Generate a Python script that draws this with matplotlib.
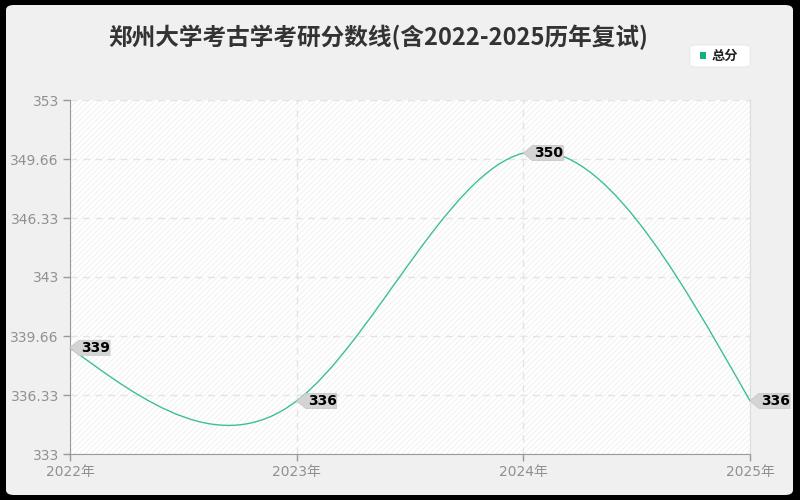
import matplotlib
matplotlib.use('Agg')
import matplotlib.pyplot as plt
import matplotlib.transforms as mtransforms
import numpy as np
from matplotlib.patches import FancyBboxPatch, Polygon, Rectangle, PathPatch
from matplotlib.path import Path

plt.rcParams['font.family'] = ['DejaVu Sans', 'Noto Sans CJK SC']
plt.rcParams['hatch.linewidth'] = 0.6

# data
years = [2022, 2023, 2024, 2025]
year_labels = ['2022年', '2023年', '2024年', '2025年']
scores = [339, 336, 350, 336]
ytick_vals = [333, 336.33, 339.66, 343, 346.33, 349.66, 353]
ytick_labels = ['333', '336.33', '339.66', '343', '346.33', '349.66', '353']

title = '郑州大学考古学考研分数线(含2022-2025历年复试)'
series_name = '总分'
line_color = '#3cc093'
marker_color = '#12b07c'

fig = plt.figure(figsize=(8, 5), dpi=100)
fig.patch.set_facecolor('black')

# light rounded card
card = FancyBboxPatch((6 / 800, 5 / 500), 787 / 800, 490 / 500,
                      boxstyle='round,pad=0,rounding_size=0.01',
                      transform=fig.transFigure, facecolor='#f0f0f0',
                      edgecolor='none', zorder=-10)
fig.patches.append(card)

ax = fig.add_axes([70 / 800, 46 / 500, 680 / 800, 354 / 500])
ax.set_facecolor('white')
ax.add_patch(Rectangle((0, 0), 1, 1, transform=ax.transAxes, facecolor='white',
                       edgecolor='#eeeeee', hatch='//////', lw=0, zorder=0))

ax.set_xlim(years[0], years[-1])
ax.set_ylim(ytick_vals[0], ytick_vals[-1])
ax.set_xticks(years)
ax.set_xticklabels(year_labels)
ax.set_yticks(ytick_vals)
ax.set_yticklabels(ytick_labels)
ax.tick_params(axis='both', colors='#999999', labelcolor='#909090',
               labelsize=10, length=5, width=1)
ax.tick_params(axis='x', pad=3)
ax.tick_params(axis='y', pad=3)

ax.spines['top'].set_visible(False)
ax.spines['right'].set_color('#dddddd')
ax.spines['left'].set_color('#999999')
ax.spines['bottom'].set_color('#999999')

ax.grid(True, color='#e4e4e4', linestyle=(0, (5, 4)), linewidth=1)
ax.set_axisbelow(True)

# natural cubic spline slopes -> bezier segments
x = np.array(years, dtype=float)
y = np.array(scores, dtype=float)
n = len(x)
h = np.diff(x)
A = np.zeros((n, n))
r = np.zeros(n)
A[0, 0] = A[-1, -1] = 1
for i in range(1, n - 1):
    A[i, i - 1] = h[i - 1]
    A[i, i] = 2 * (h[i - 1] + h[i])
    A[i, i + 1] = h[i]
    r[i] = 6 * ((y[i + 1] - y[i]) / h[i] - (y[i] - y[i - 1]) / h[i - 1])
M = np.linalg.solve(A, r)
slope = np.zeros(n)
for i in range(n - 1):
    slope[i] = (y[i + 1] - y[i]) / h[i] - h[i] * (2 * M[i] + M[i + 1]) / 6
slope[-1] = (y[-1] - y[-2]) / h[-1] + h[-1] * (M[-2] + 2 * M[-1]) / 6

verts = [(x[0], y[0])]
codes = [Path.MOVETO]
for i in range(n - 1):
    d = h[i] / 3
    verts += [(x[i] + d, y[i] + slope[i] * d),
              (x[i + 1] - d, y[i + 1] - slope[i + 1] * d),
              (x[i + 1], y[i + 1])]
    codes += [Path.CURVE4] * 3
ax.add_patch(PathPatch(Path(verts, codes), facecolor='none',
                       edgecolor=line_color, lw=1, zorder=3, clip_on=False))

# value tags
for xv, yv in zip(years, scores):
    base = mtransforms.ScaledTranslation(xv, yv, ax.transData)
    tr = fig.dpi_scale_trans + base
    px = 1 / 100
    tag = [(0, 0), (9 * px, 7.5 * px), (40 * px, 7.5 * px),
           (40 * px, -7.5 * px), (9 * px, -7.5 * px)]
    ax.add_patch(Polygon(tag, closed=True, transform=tr, facecolor='#d4d4d4',
                         edgecolor='#c8c8c8', lw=0.6, zorder=5, clip_on=False))
    ax.text(11 * px, 0, str(yv), transform=tr, fontsize=10, fontweight='bold',
            color='black', va='center', ha='left', zorder=6, clip_on=False)

# title
fig.text(378 / 800, 1 - 37 / 500, title, ha='center', va='center',
         fontsize=17, fontweight='bold', color='#333333',
         family=['Noto Sans CJK SC', 'DejaVu Sans'])

# legend
leg_box = FancyBboxPatch((690 / 800, 1 - 67 / 500), 60 / 800, 22 / 500,
                         boxstyle='round,pad=0,rounding_size=0.006',
                         transform=fig.transFigure, facecolor='white',
                         edgecolor='#e6e6e6', lw=0.6)
fig.patches.append(leg_box)
fig.patches.append(Rectangle((700 / 800, 1 - 58.5 / 500), 6 / 800, 6 / 500,
                             transform=fig.transFigure, facecolor=marker_color,
                             edgecolor='none'))
fig.text(712 / 800, 1 - 55.5 / 500, series_name, ha='left', va='center',
         fontsize=9.5, fontweight='bold', color='#222222',
         family=['Noto Sans CJK SC', 'DejaVu Sans'])

fig.savefig('out.png', dpi=100, facecolor=fig.get_facecolor())
